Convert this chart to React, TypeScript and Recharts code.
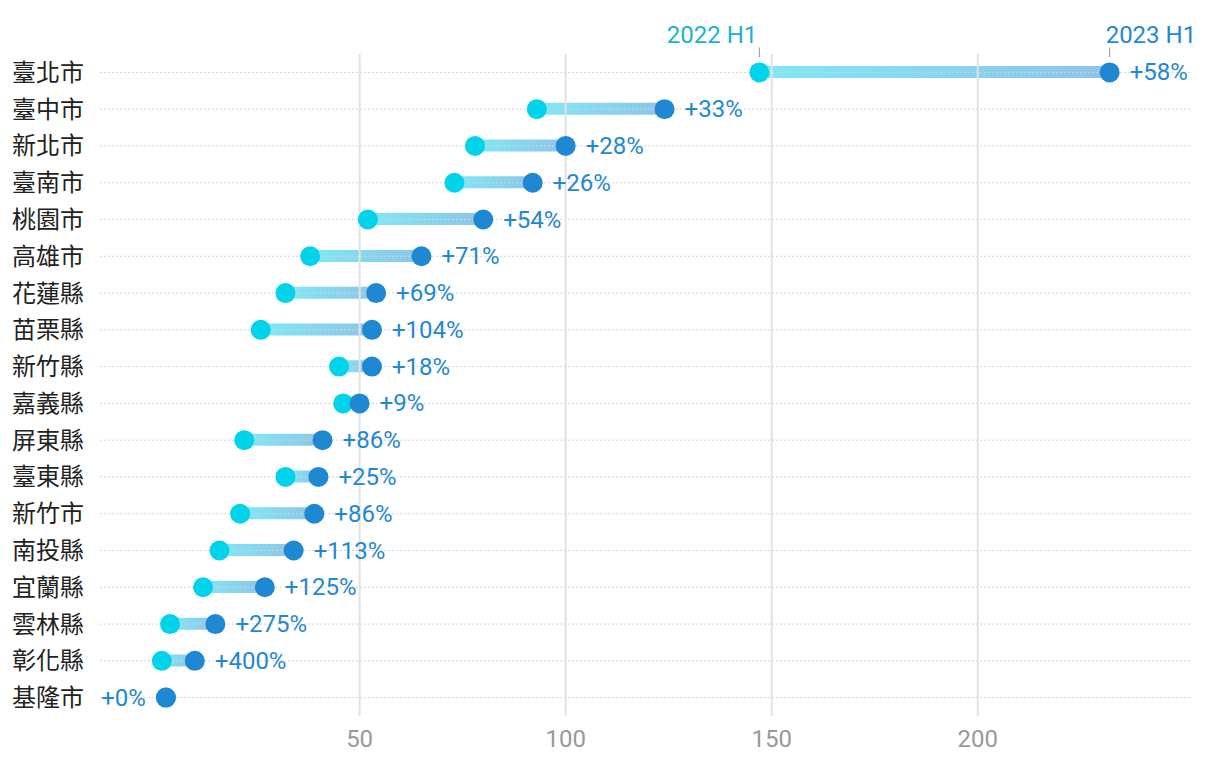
import {
  Bar,
  ComposedChart,
  LabelList,
  Line,
  ReferenceLine,
  XAxis,
  YAxis,
} from "recharts";

const cities = [
  '臺北市', '臺中市', '新北市', '臺南市', '桃園市', '高雄市', '花蓮縣', '苗栗縣', '新竹縣',
  '嘉義縣', '屏東縣', '臺東縣', '新竹市', '南投縣', '宜蘭縣', '雲林縣', '彰化縣', '基隆市',
];
const h1of2022 = [147, 93, 78, 73, 52, 38, 32, 26, 45, 46, 22, 32, 21, 16, 12, 4, 2, 3];
const h1of2023 = [232, 124, 100, 92, 80, 65, 54, 53, 53, 50, 41, 40, 39, 34, 27, 15, 10, 3];
const changes = [
  '+58%', '+33%', '+28%', '+26%', '+54%', '+71%', '+69%', '+104%', '+18%',
  '+9%', '+86%', '+25%', '+86%', '+113%', '+125%', '+275%', '+400%', '+0%',
];
const xTicks = [50, 100, 150, 200];

const START_COLOR = '#00d3ea';
const END_COLOR = '#1e88d2';

const data = cities.map((city, i) => ({
  city,
  start: h1of2022[i],
  end: h1of2023[i],
  change: changes[i],
}));

const StartLabel = ({ x, y, index }: any) => {
  if (index !== 0) return null;
  return (
    <g>
      <line x1={x} x2={x} y1={y - 25} y2={y - 15} stroke="#999" strokeWidth={1} />
      <text x={x - 2} y={y - 29} textAnchor="end" fill="#1ab4cc" fontSize={24}>
        2022 H1
      </text>
    </g>
  );
};

const EndLabel = ({ x, y, index }: any) => {
  const row = data[index];
  const right = row.end > row.start;
  return (
    <g>
      <text
        x={right ? x + 20 : x - 20}
        y={y + 8}
        textAnchor={right ? 'start' : 'end'}
        fill={END_COLOR}
        fontSize={24}
      >
        {row.change}
      </text>
      {index === 0 && (
        <>
          <line x1={x} x2={x} y1={y - 25} y2={y - 15} stroke="#999" strokeWidth={1} />
          <text x={x - 4} y={y - 29} textAnchor="start" fill={END_COLOR} fontSize={24}>
            2023 H1
          </text>
        </>
      )}
    </g>
  );
};

const App = () => {
  return (
    <div style={{ position: 'absolute', left: 0, top: 0, fontFamily: 'Roboto, sans-serif' }}>
      <ComposedChart
        width={1220}
        height={760}
        data={data}
        layout="vertical"
        margin={{ top: 54, right: 30, left: 0, bottom: 0 }}
      >
        <defs>
          <linearGradient id="dumbbell" x1="0" y1="0" x2="1" y2="0">
            <stop offset="0%" stopColor={START_COLOR} stopOpacity={0.5} />
            <stop offset="100%" stopColor={END_COLOR} stopOpacity={0.5} />
          </linearGradient>
        </defs>
        <XAxis
          type="number"
          domain={[-13, 251.5]}
          ticks={xTicks}
          axisLine={false}
          tickLine={false}
          tickSize={0}
          tickMargin={14}
          height={44}
          tick={{ fill: '#999', fontSize: 24 }}
        />
        <YAxis
          type="category"
          dataKey="city"
          width={100}
          axisLine={false}
          tickLine={false}
          tickSize={0}
          tickMargin={16}
          interval={0}
          tick={{ fill: '#222', fontSize: 24, fontFamily: '"Noto Sans CJK TC"' }}
        />
        {cities.map((c) => (
          <ReferenceLine key={c} y={c} stroke="#d4d4d4" strokeDasharray="2 2" />
        ))}
        {xTicks.map((t) => (
          <ReferenceLine key={t} x={t} stroke="#e2e2e2" strokeWidth={2} />
        ))}
        <Bar
          dataKey={(d: any) => [d.start, d.end]}
          barSize={12}
          fill="url(#dumbbell)"
          isAnimationActive={false}
        />
        <Line
          dataKey="start"
          stroke="none"
          dot={{ r: 10, fill: START_COLOR, stroke: 'none' }}
          activeDot={false}
          isAnimationActive={false}
        >
          <LabelList dataKey="start" content={StartLabel} />
        </Line>
        <Line
          dataKey="end"
          stroke="none"
          dot={{ r: 10, fill: END_COLOR, stroke: 'none' }}
          activeDot={false}
          isAnimationActive={false}
        >
          <LabelList dataKey="end" content={EndLabel} />
        </Line>
      </ComposedChart>
    </div>
  );
};

export default App;
